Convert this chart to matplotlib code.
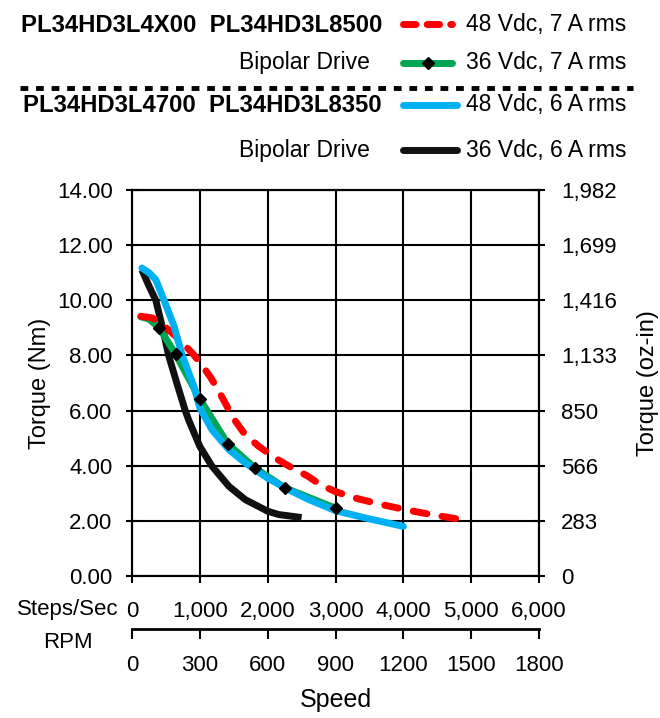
import matplotlib
matplotlib.use("Agg")
import matplotlib.pyplot as plt
from matplotlib.lines import Line2D

plt.rcParams['font.family'] = ['Liberation Sans', 'DejaVu Sans']

# speed in steps/sec, torque in Nm
red_steps = [130, 300, 450, 700, 900, 1000, 1160, 1280, 1500, 1670, 1870, 2110, 2360, 2600, 2770, 3000, 3300, 3700, 4040, 4430, 4970]
red_torque = [9.42, 9.36, 9.12, 8.58, 8.05, 7.75, 7.2, 6.7, 5.7, 5.12, 4.70, 4.28, 3.92, 3.61, 3.32, 3.06, 2.82, 2.58, 2.40, 2.22, 2.0]

green_steps = [130, 250, 400, 644, 1000, 1410, 1820, 2260, 3000]
green_torque = [9.4, 9.32, 9.0, 8.04, 6.42, 4.80, 3.90, 3.19, 2.46]
green_marks = [2, 3, 4, 5, 6, 7, 8]

blue_steps = [146, 250, 350, 450, 620, 740, 910, 1000, 1180, 1430, 1670, 2000, 2260, 2600, 3000, 3450, 4000]
blue_torque = [11.17, 11.0, 10.75, 10.14, 9.06, 8.0, 6.89, 6.1, 5.30, 4.58, 4.10, 3.55, 3.19, 2.78, 2.37, 2.10, 1.80]

black_steps = [146, 254, 351, 450, 540, 660, 785, 835, 1000, 1180, 1430, 1670, 2000, 2160, 2500]
black_torque = [11.1, 10.5, 10.0, 9.0, 8.0, 7.0, 6.0, 5.66, 4.70, 3.98, 3.25, 2.77, 2.35, 2.23, 2.12]

series_labels = ["48 Vdc, 7 A rms", "36 Vdc, 7 A rms", "48 Vdc, 6 A rms", "36 Vdc, 6 A rms"]
models = ["PL34HD3L4X00  PL34HD3L8500", "PL34HD3L4700  PL34HD3L8350"]

nm_ticks = [0, 2, 4, 6, 8, 10, 12, 14]
ozin_labels = ["0", "283", "566", "850", "1,133", "1,416", "1,699", "1,982"]
steps_ticks = [0, 1000, 2000, 3000, 4000, 5000, 6000]
rpm_ticks = [0, 300, 600, 900, 1200, 1500, 1800]

W, H = 660, 718
fig = plt.figure(figsize=(W / 100, H / 100), dpi=100)
ax = fig.add_axes([132 / W, 1 - 576 / H, 407 / W, 386 / H])

lw = 5
ax.plot(black_steps, black_torque, color='#111111', lw=lw, solid_capstyle='butt', zorder=3)
ax.plot(green_steps, green_torque, color='#00a651', lw=lw, solid_capstyle='round', zorder=4)
ax.plot(red_steps, red_torque, color='#ff0000', lw=lw, dashes=(2.0, 2.2), dash_capstyle='round', zorder=5)
ax.plot(blue_steps, blue_torque, color='#00b0f0', lw=lw, solid_capstyle='round', zorder=6)
ax.plot([green_steps[i] for i in green_marks], [green_torque[i] for i in green_marks],
        ls='none', marker='D', ms=6.5, color='black', zorder=7)

ax.set_xlim(0, 6000)
ax.set_ylim(0, 14)
ax.set_xticks(steps_ticks)
ax.set_xticklabels([f"{v:,}" for v in steps_ticks])
ax.set_yticks(nm_ticks)
ax.set_yticklabels([f"{v:.2f}" for v in nm_ticks])
ax.grid(True, color='black', lw=1.5)
ax.set_axisbelow(True)
for s in ax.spines.values():
    s.set_linewidth(1.5)
ax.tick_params(axis='y', direction='inout', length=8, width=1.5, labelsize=16, pad=10)
ax.tick_params(axis='x', direction='out', length=5, width=1.5, labelsize=16, pad=13)
ax.set_ylabel("Torque (Nm)", fontsize=17, labelpad=4)

ax2 = ax.twinx()
ax2.set_ylim(0, 14)
ax2.set_yticks(nm_ticks)
ax2.set_yticklabels(ozin_labels)
ax2.tick_params(axis='y', direction='inout', length=8, width=1.5, labelsize=16, pad=12)
for s in ax2.spines.values():
    s.set_linewidth(1.5)
ax2.set_ylabel("Torque (oz-in)", fontsize=17, labelpad=14)

sec = ax.secondary_xaxis(-53 / 386, functions=(lambda x: x * 0.3, lambda x: x / 0.3))
sec.set_xticks(rpm_ticks)
sec.tick_params(direction='out', length=7, width=1.5, labelsize=16, pad=12)
sec.spines['bottom'].set_linewidth(2)
sec.set_xlabel("Speed", fontsize=18, labelpad=8)

fig.text(68 / W, 1 - 609 / H, "Steps/Sec", fontsize=16, ha='center', va='center')
fig.text(68 / W, 1 - 642 / H, "RPM", fontsize=16, ha='center', va='center')

# header
def fy(y):
    return 1 - y / H

fig.text(382 / W, fy(25), models[0], fontsize=17.2, fontweight='bold', ha='right', va='center')
fig.text(370 / W, fy(63), "Bipolar Drive", fontsize=16.5, ha='right', va='center')
fig.text(382 / W, fy(106), models[1], fontsize=17.2, fontweight='bold', ha='right', va='center')
fig.text(370 / W, fy(150), "Bipolar Drive", fontsize=16.5, ha='right', va='center')

fig.add_artist(Line2D([20 / W, 633 / W], [fy(88), fy(88)], color='black', lw=3.5, dashes=(1.6, 1.6)))

fig.add_artist(Line2D([403 / W, 452 / W], [fy(24), fy(24)], color='#ff0000', lw=lw, dashes=(1.8, 1.6), dash_capstyle='round'))
fig.add_artist(Line2D([403 / W, 452 / W], [fy(63), fy(63)], color='#00a651', lw=lw, solid_capstyle='round'))
fig.add_artist(Line2D([428 / W], [fy(63)], ls='none', marker='D', ms=6.5, color='black'))
fig.add_artist(Line2D([403 / W, 457 / W], [fy(105), fy(105)], color='#00b0f0', lw=lw, solid_capstyle='round'))
fig.add_artist(Line2D([403 / W, 457 / W], [fy(150), fy(150)], color='#111111', lw=lw, solid_capstyle='round'))

for lab, y in zip(series_labels, [24, 63, 105, 150]):
    fig.text(466 / W, fy(y), lab, fontsize=16.5, ha='left', va='center')

fig.savefig("out.png", dpi=100)
